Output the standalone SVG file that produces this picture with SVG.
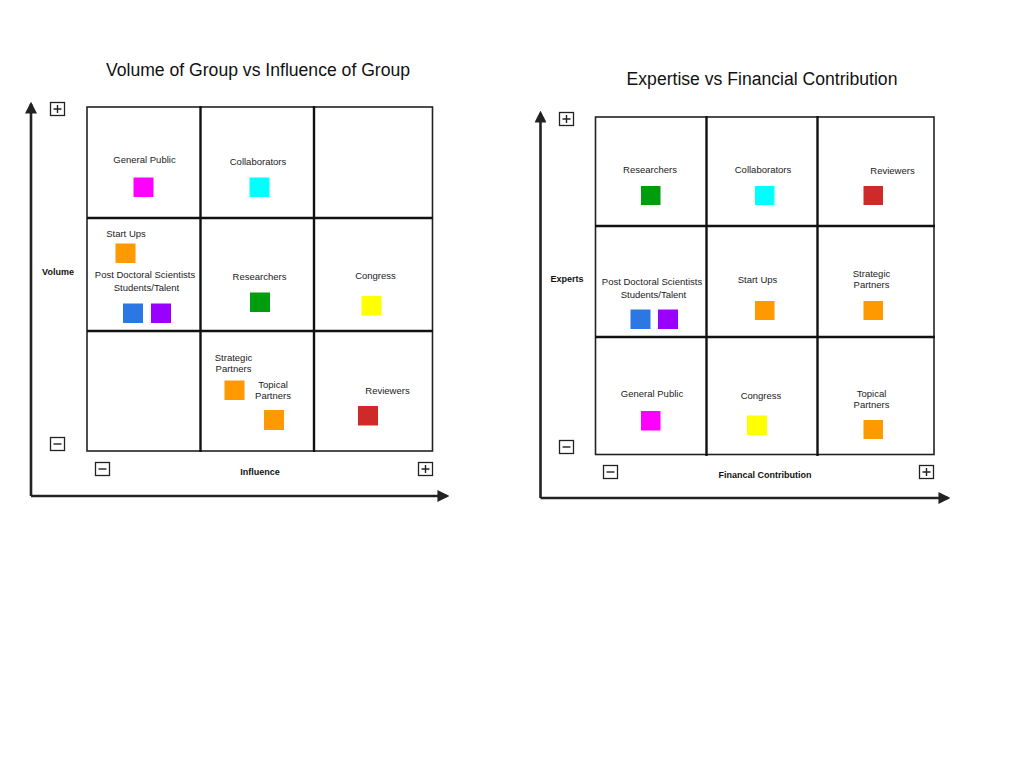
<svg xmlns="http://www.w3.org/2000/svg" width="1024" height="768" viewBox="0 0 1024 768">
<defs>
<style>
text{font-family:"Liberation Sans",Arial,sans-serif;fill:#222;text-anchor:middle}
.t{font-size:17.6px;fill:#111}
.l{font-size:9.5px}
.b{font-size:9px;font-weight:bold;fill:#111}
.outer{fill:#fff;stroke:#222;stroke-width:1.6}
.div{stroke:#111;stroke-width:2.4;fill:none}
.axis{stroke:#222;stroke-width:2.6;fill:none}
.pm{fill:#fff;stroke:#222;stroke-width:1.3}
.sign{stroke:#222;stroke-width:1.4}
</style>
<marker id="ah" viewBox="0 0 10 10" refX="8" refY="5" markerWidth="4.6" markerHeight="4.6" orient="auto" markerUnits="strokeWidth">
<path d="M0,0 L10,5 L0,10 z" fill="#222"/>
</marker>
<g id="plus"><rect class="pm" x="0" y="0" width="14" height="13"/><path class="sign" d="M3,6.5 H11 M7,2.5 V10.5"/></g>
<g id="minus"><rect class="pm" x="0" y="0" width="14" height="13"/><path class="sign" d="M3,6.5 H11"/></g>
</defs>
<rect width="1024" height="768" fill="#fff"/>

<!-- Left chart -->
<g id="chart1">
<text class="t" x="258" y="76">Volume of Group vs Influence of Group</text>
<rect class="outer" x="87" y="107" width="345.5" height="344"/>
<path class="div" d="M200.5,106 V452 M314,106 V452 M87,218 H433 M87,331 H433"/>
</g>
<g id="connectors1">
<path class="axis" d="M31,496 V104" marker-end="url(#ah)"/>
<path class="axis" d="M31,496 H447" marker-end="url(#ah)"/>
</g>
<g id="axislabels1">
<use href="#plus" x="50.5" y="102.5"/>
<use href="#minus" x="50.5" y="437.5"/>
<use href="#minus" x="95.5" y="462.5"/>
<use href="#plus" x="418.5" y="462.5"/>
<text class="b" x="58" y="275">Volume</text>
<text class="b" x="260" y="474.5">Influence</text>
</g>
<g id="n1-general-public"><text class="l" x="144.5" y="163">General Public</text><rect x="133.5" y="177.5" width="20" height="19.5" fill="#ff00ff"/></g>
<g id="n1-collaborators"><text class="l" x="258" y="164.5">Collaborators</text><rect x="249.5" y="177.5" width="20" height="19.5" fill="#00ffff"/></g>
<g id="n1-start-ups"><text class="l" x="126" y="237">Start Ups</text><rect x="115.5" y="243.5" width="20" height="19.5" fill="#ff9900"/></g>
<g id="n1-postdoc"><text class="l" x="145" y="278">Post Doctoral Scientists</text><text class="l" x="146.5" y="291">Students/Talent</text>
<rect x="123" y="303.5" width="20" height="19.5" fill="#2b78e4"/><rect x="151" y="303.5" width="20" height="19.5" fill="#9900ff"/></g>
<g id="n1-researchers"><text class="l" x="259.5" y="279.5">Researchers</text><rect x="250" y="292.5" width="20" height="19.5" fill="#009e0f"/></g>
<g id="n1-congress"><text class="l" x="375.5" y="279">Congress</text><rect x="361.5" y="296" width="20" height="19.5" fill="#ffff00"/></g>
<g id="n1-strategic"><text class="l" x="233.5" y="360.5">Strategic</text><text class="l" x="233.5" y="371.5">Partners</text><rect x="224.5" y="380.5" width="20" height="19.5" fill="#ff9900"/></g>
<g id="n1-topical"><text class="l" x="273" y="387.5">Topical</text><text class="l" x="273" y="398.5">Partners</text><rect x="264" y="410" width="20" height="20" fill="#ff9900"/></g>
<g id="n1-reviewers"><text class="l" x="387.5" y="393.5">Reviewers</text><rect x="358" y="406" width="20" height="19.5" fill="#cf2a27"/></g>

<!-- Right chart -->
<g id="chart2">
<text class="t" x="762" y="85">Expertise vs Financial Contribution</text>
<rect class="outer" x="595.5" y="117" width="338.5" height="337.5"/>
<path class="div" d="M706.5,116 V456 M817.5,116 V456 M595,226 H935 M595,337 H935"/>
</g>
<g id="connectors2">
<path class="axis" d="M540.5,498 V113" marker-end="url(#ah)"/>
<path class="axis" d="M540.5,498 H948" marker-end="url(#ah)"/>
</g>
<g id="axislabels2">
<use href="#plus" x="559.5" y="112.5"/>
<use href="#minus" x="559.5" y="440.5"/>
<use href="#minus" x="603.5" y="465.5"/>
<use href="#plus" x="919.5" y="465.5"/>
<text class="b" x="567" y="282">Experts</text>
<text class="b" x="765" y="477.5">Financal Contribution</text>
</g>
<g id="n2-researchers"><text class="l" x="650" y="173">Researchers</text><rect x="641" y="186" width="19.5" height="19" fill="#009e0f"/></g>
<g id="n2-collaborators"><text class="l" x="763" y="173">Collaborators</text><rect x="755" y="186" width="19.5" height="19" fill="#00ffff"/></g>
<g id="n2-reviewers"><text class="l" x="892.5" y="173.5">Reviewers</text><rect x="863.5" y="186" width="19.5" height="19" fill="#cf2a27"/></g>
<g id="n2-postdoc"><text class="l" x="652" y="284.5">Post Doctoral Scientists</text><text class="l" x="653.5" y="297.5">Students/Talent</text>
<rect x="630.5" y="309.5" width="20" height="19.5" fill="#2b78e4"/><rect x="658" y="309.5" width="20" height="19.5" fill="#9900ff"/></g>
<g id="n2-start-ups"><text class="l" x="757.5" y="282.5">Start Ups</text><rect x="755" y="301" width="19.5" height="19" fill="#ff9900"/></g>
<g id="n2-strategic"><text class="l" x="871.5" y="277">Strategic</text><text class="l" x="871.5" y="288">Partners</text><rect x="863.5" y="301" width="19.5" height="19" fill="#ff9900"/></g>
<g id="n2-general-public"><text class="l" x="652" y="396.5">General Public</text><rect x="641" y="411" width="19.5" height="19.5" fill="#ff00ff"/></g>
<g id="n2-congress"><text class="l" x="761" y="399">Congress</text><rect x="747" y="415.5" width="20" height="19.5" fill="#ffff00"/></g>
<g id="n2-topical"><text class="l" x="871.5" y="397">Topical</text><text class="l" x="871.5" y="407.5">Partners</text><rect x="863.5" y="420" width="19.5" height="19" fill="#ff9900"/></g>
</svg>
